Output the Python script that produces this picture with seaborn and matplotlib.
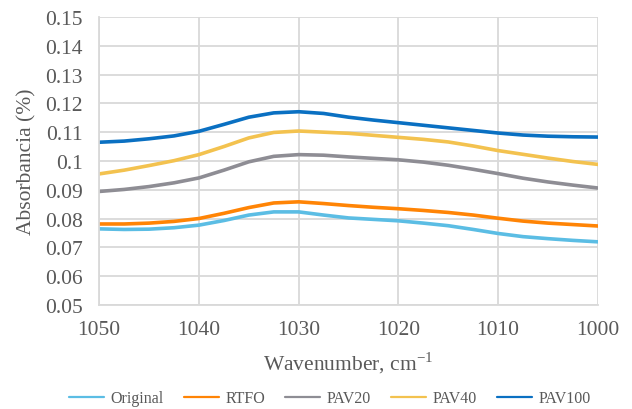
import numpy as np
import pandas as pd
import matplotlib
matplotlib.use('Agg')
import matplotlib.pyplot as plt
import seaborn as sns

# Datos (absorbancia vs numero de onda)
wavenumber = [1050, 1047.5, 1045, 1042.5, 1040, 1037.5, 1035, 1032.5, 1030, 1027.5,
              1025, 1022.5, 1020, 1017.5, 1015, 1012.5, 1010, 1007.5, 1005, 1002.5, 1000]

original = [0.0764, 0.0762, 0.0763, 0.0768, 0.0777, 0.0793, 0.0812, 0.0823, 0.0823, 0.0812,
            0.0802, 0.0797, 0.0792, 0.0784, 0.0775, 0.0762, 0.0748, 0.0737, 0.0730, 0.0724, 0.0719]
rtfo = [0.0781, 0.0781, 0.0784, 0.0790, 0.0800, 0.0818, 0.0838, 0.0854, 0.0858, 0.0852,
        0.0845, 0.0839, 0.0834, 0.0828, 0.0821, 0.0812, 0.0801, 0.0791, 0.0784, 0.0779, 0.0774]
pav20 = [0.0894, 0.0901, 0.0911, 0.0924, 0.0941, 0.0968, 0.0997, 0.1016, 0.1022, 0.1020,
         0.1014, 0.1009, 0.1004, 0.0996, 0.0985, 0.0971, 0.0956, 0.0940, 0.0927, 0.0916, 0.0906]
pav40 = [0.0955, 0.0968, 0.0984, 0.1001, 0.1022, 0.1050, 0.1080, 0.1099, 0.1104, 0.1100,
         0.1096, 0.1089, 0.1082, 0.1075, 0.1066, 0.1052, 0.1036, 0.1023, 0.1010, 0.0998, 0.0988]
pav100 = [0.1065, 0.1069, 0.1077, 0.1087, 0.1103, 0.1127, 0.1152, 0.1167, 0.1171, 0.1165,
          0.1152, 0.1142, 0.1133, 0.1124, 0.1115, 0.1106, 0.1097, 0.1090, 0.1086, 0.1084, 0.1083]

series_names = ['Original', 'RTFO', 'PAV20', 'PAV40', 'PAV100']
colores = ['#5BBDE4', '#FF8405', '#8E8D94', '#F3C24F', '#0A70C2']

df = pd.DataFrame({'Wavenumber': wavenumber, 'Original': original, 'RTFO': rtfo,
                   'PAV20': pav20, 'PAV40': pav40, 'PAV100': pav100})
df_long = df.melt(id_vars='Wavenumber', var_name='Muestra', value_name='Absorbancia')

sns.set_theme(style='white')
plt.rcParams['font.family'] = ['Liberation Serif', 'DejaVu Serif']
plt.rcParams['mathtext.fontset'] = 'stix'

fig = plt.figure(figsize=(6.32, 4.10), dpi=100)
ax = fig.add_axes([0.157, 0.254, 0.789, 0.702])

sns.lineplot(data=df_long, x='Wavenumber', y='Absorbancia', hue='Muestra',
             hue_order=series_names, palette=colores, linewidth=2.6, ax=ax,
             legend=False)

ax.set_xlim(1050, 1000)
ax.set_ylim(0.05, 0.15)
ax.set_xticks([1050, 1040, 1030, 1020, 1010, 1000])
ax.set_yticks(np.round(np.arange(0.05, 0.151, 0.01), 2))
ax.set_yticklabels(['0.05', '0.06', '0.07', '0.08', '0.09', '0.1',
                    '0.11', '0.12', '0.13', '0.14', '0.15'])

ax.grid(True, color='#D9D9D9', linewidth=1.3)
ax.set_axisbelow(True)
for lado in ['top', 'right']:
    ax.spines[lado].set_visible(False)
for lado in ['left', 'bottom']:
    ax.spines[lado].set_color('#D9D9D9')
    ax.spines[lado].set_linewidth(1.3)

ax.tick_params(axis='both', labelsize=15.5, colors='#595959', length=0)
ax.tick_params(axis='y', pad=12)
ax.tick_params(axis='x', pad=11)
ax.set_xlabel(r'Wavenumber, cm$^{\mathregular{-1}}$', fontsize=15.5, color='#595959', labelpad=8)
ax.set_ylabel('Absorbancia (%)', fontsize=15.5, color='#595959', labelpad=6)

handles = [plt.Line2D([0], [0], color=c, linewidth=1.6) for c in colores]
fig.legend(handles, series_names, loc='center', bbox_to_anchor=(0.522, 0.026), ncol=5,
           frameon=False, fontsize=11.5, handlelength=2.2, columnspacing=1.25,
           handletextpad=0.4, labelcolor='#595959', borderpad=0, borderaxespad=0)

plt.savefig('out.png', dpi=100)
